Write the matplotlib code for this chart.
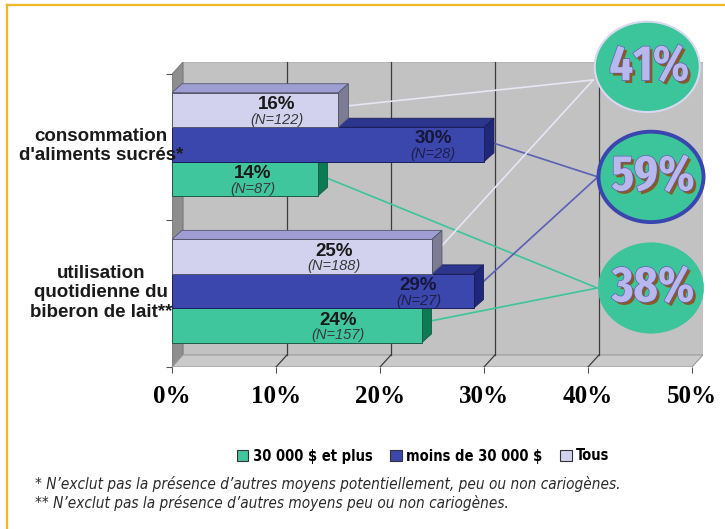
import matplotlib
matplotlib.use("Agg")
import matplotlib.pyplot as plt
from matplotlib import font_manager
from matplotlib.font_manager import FontProperties
from matplotlib.patches import Polygon, Ellipse, Patch
from matplotlib.lines import Line2D
import matplotlib.patheffects as pe

# data
categories = ["consommation\nd'aliments sucrés*", "utilisation\nquotidienne du\nbiberon de lait**"]
series_names = ["30 000 $ et plus", "moins de 30 000 $", "Tous"]
pct_plus = [14, 24]
pct_moins = [30, 29]
pct_tous = [16, 25]
n_plus = [87, 157]
n_moins = [28, 27]
n_tous = [122, 188]
totals = [38, 59, 41]  # plus, moins, tous
x_ticks = [0, 10, 20, 30, 40, 50]
x_tick_labels = ["0%", "10%", "20%", "30%", "40%", "50%"]
footnotes = [
    "* N\u2019exclut pas la présence d\u2019autres moyens potentiellement, peu ou non cariogènes.",
    "** N\u2019exclut pas la présence d\u2019autres moyens peu ou non cariogènes.",
]

# layout / style
W, H = 725, 529
DX, DY = 1.06, 0.35      # wall depth (data units)
BDX, BDY = 0.96, 0.26    # bar depth
YTOP = 8.84
group_y = [6.45, 2.2]    # centre of middle bar in each group
label_x = {"plus": [7.8, 16.0], "moins": [25.1, 23.7], "tous": [10.1, 15.6]}
ell_y = {"plus": 2.29, "moins": 5.51, "tous": 8.70}
ell_x = {"plus": 46.06, "moins": 46.06, "tous": 45.7}
anchor = {"plus": (40.9, 2.29), "moins": (40.95, 5.51), "tous": (40.5, 8.32)}

styles = {
    "plus": dict(front="#3fc69c", top="#2aa27c", side="#0c7a52", edge="#1e5a44",
                 line="#3cc49a", txt="#1a1a1a", ntxt="#3a3a3a"),
    "moins": dict(front="#3b47ad", top="#2c368e", side="#1f2878", edge="#1a1f5a",
                  line="#5a60b4", txt="#16163a", ntxt="#1e1e4a"),
    "tous": dict(front="#d2d2ef", top="#9e9ed2", side="#7c7c92", edge="#55556e",
                 line="#e6e6f4", txt="#1a1a1a", ntxt="#3a3a3a"),
}

plt.rcParams["font.family"] = ["Liberation Sans", "DejaVu Sans"]


# look for a narrow / condensed sans face (most condensed first if asked)
def narrow_font(italic=False, bold=False, extra=False):
    found = []
    for f in font_manager.fontManager.ttflist:
        st = str(f.stretch).lower()
        nm = f.name.lower()
        fn = f.fname.lower()
        if not ("condensed" in st or "narrow" in nm or "condensed" in nm or "condensed" in fn):
            continue
        if "serif" in nm and "sans" not in nm:
            continue
        w = f.weight if isinstance(f.weight, int) else font_manager.weight_dict.get(f.weight, 400)
        if (f.style != "normal") != italic:
            continue
        if bold and not (600 <= w <= 750):
            continue
        if not bold and not (350 <= w <= 450):
            continue
        tight = "extracondensed" in fn.replace("-", "").replace("_", "")
        semi = "semicondensed" in fn.replace("-", "").replace("_", "")
        rank = (0 if tight else 1 if not semi else 2) if extra else (1 if tight else 0 if not semi else 2)
        found.append((rank, f.fname))
    if not found:
        return None
    found.sort()
    return FontProperties(fname=found[0][1])


nb = narrow_font(bold=True)
ni = narrow_font(italic=True)
nx = narrow_font(bold=True, extra=True)

fig = plt.figure(figsize=(W / 100, H / 100), dpi=100)
fig.patch.set_facecolor("white")
ax = fig.add_axes([172 / W, (H - 367) / H, 531 / W, 305 / H])
ax.set_xlim(0, 50 + DX)
ax.set_ylim(0, YTOP)
ax.patch.set_visible(False)
for s in ax.spines.values():
    s.set_visible(False)

# walls and floor
ax.add_patch(Polygon([(DX, DY), (50 + DX, DY), (50 + DX, YTOP), (DX, YTOP)],
                     fc="#c2c2c2", ec="#b0b0b0", lw=0.6, zorder=1))
ax.add_patch(Polygon([(0, 0), (DX, DY), (DX, YTOP), (0, YTOP - DY)],
                     fc="#8e8e8e", ec="#707070", lw=0.6, zorder=1.2))
ax.add_patch(Polygon([(0, 0), (50, 0), (50 + DX, DY), (DX, DY)],
                     fc="#cacaca", ec="#9a9a9a", lw=0.8, zorder=1.2))
for v in x_ticks[1:-1]:
    ax.plot([v + DX, v + DX], [DY, YTOP], color="#3c3c3c", lw=0.9, zorder=1.5)
    ax.plot([v, v + DX], [0, DY], color="#3c3c3c", lw=0.9, zorder=1.5)

ax.set_xticks(x_ticks)
ax.set_xticklabels(x_tick_labels, family="Liberation Serif", fontweight="bold", fontsize=18)
ax.set_yticks([0, 4.25, 8.5])
ax.set_yticklabels([])
ax.tick_params(axis="both", direction="out", length=4, color="#555555", width=0.8)
ax.tick_params(axis="x", pad=9)


def draw_bar(v, yc, st, z):
    y0, y1 = yc - 0.5, yc + 0.5
    ax.barh(yc, v, height=1.0, color=st["front"], edgecolor=st["edge"], lw=0.7, zorder=z)
    ax.add_patch(Polygon([(0, y1), (v, y1), (v + BDX, y1 + BDY), (BDX, y1 + BDY)],
                         fc=st["top"], ec=st["edge"], lw=0.6, zorder=z - 0.1))
    ax.add_patch(Polygon([(v, y0), (v + BDX, y0 + BDY), (v + BDX, y1 + BDY), (v, y1)],
                         fc=st["side"], ec=st["edge"], lw=0.6, zorder=z - 0.1))


series = [("plus", pct_plus, n_plus, -1), ("moins", pct_moins, n_moins, 0), ("tous", pct_tous, n_tous, 1)]

for key, vals, ns, off in series:
    st = styles[key]
    z = 4 + off
    for i, (v, n) in enumerate(zip(vals, ns)):
        yc = group_y[i] + off
        draw_bar(v, yc, st, z)
        ax.text(label_x[key][i], yc + 0.16, f"{v}%", ha="center", va="center",
                fontsize=13.5, fontweight="bold", color=st["txt"], zorder=10)
        ax.text(label_x[key][i], yc - 0.28, f"(N={n})", ha="center", va="center",
                fontsize=10.5, style="italic", color=st["ntxt"], zorder=10)
        # connector to the total bubble
        ax.plot([v + 0.3, anchor[key][0]], [yc + 0.1, anchor[key][1]],
                color=st["line"], lw=1.2, zorder=2, solid_capstyle="round")

# total bubbles
if nx is not None:
    bub_fp = nx.copy()
    bub_fp.set_size(36)
else:
    bub_fp = FontProperties(family="Liberation Sans", weight="bold", size=26)
for (key, _, _, _), tot in zip(series, totals):
    ec = {"plus": "#3cc49a", "moins": "#3a46b0", "tous": "#d8d8f2"}[key]
    lw = {"plus": 0.5, "moins": 2.8, "tous": 1.5}[key]
    ax.add_patch(Ellipse((ell_x[key], ell_y[key]), 10.1, 2.62, fc="#3cc49a", ec=ec,
                         lw=lw, zorder=8, clip_on=False))
    ax.text(ell_x[key] + 0.2, ell_y[key], f"{tot}%", ha="center", va="center",
            fontproperties=bub_fp, color="#b8b8ec", zorder=9,
            path_effects=[pe.SimplePatchShadow(offset=(2, -2), shadow_rgbFace="#8a5a24", alpha=1),
                          pe.Stroke(linewidth=0.9, foreground="#5a5ab0"), pe.Normal()])

# category labels
for cat, yc in zip(categories, group_y):
    ax.text(-6.8, yc - 0.05, cat, ha="center", va="center", fontsize=13.5,
            fontweight="bold", color="#1a1a1a", linespacing=1.2, zorder=11)

# legend
handles = [Patch(fc=styles[k]["front"], ec="#333333", lw=0.8) for k in ("plus", "moins", "tous")]
if nb is not None:
    leg_fp = nb.copy()
    leg_fp.set_size(10.5)
else:
    leg_fp = FontProperties(family="Liberation Sans", weight="bold", size=9.6)
fig.legend(handles, series_names, loc="center", bbox_to_anchor=(423 / W, 1 - 456 / H),
           ncol=3, frameon=False, handlelength=0.8, handleheight=0.8, handletextpad=0.3,
           columnspacing=1.2, prop=leg_fp)

# footnotes
if ni is not None:
    foot_fp = ni.copy()
    foot_fp.set_size(11)
else:
    foot_fp = FontProperties(family="Liberation Sans", style="italic", size=10)
for i, t in enumerate(footnotes):
    fig.text(35 / W, 1 - (484 + 19 * i) / H, t, ha="left", va="center",
             fontproperties=foot_fp, color="#2a2a2a")

# orange frame (top and left)
fig.add_artist(Line2D([7 / W, 1], [1 - 5 / H, 1 - 5 / H], color="#f2b526", lw=1.6))
fig.add_artist(Line2D([7 / W, 7 / W], [0, 1 - 5 / H], color="#f2b526", lw=1.6))

fig.savefig("out.png", dpi=100)
